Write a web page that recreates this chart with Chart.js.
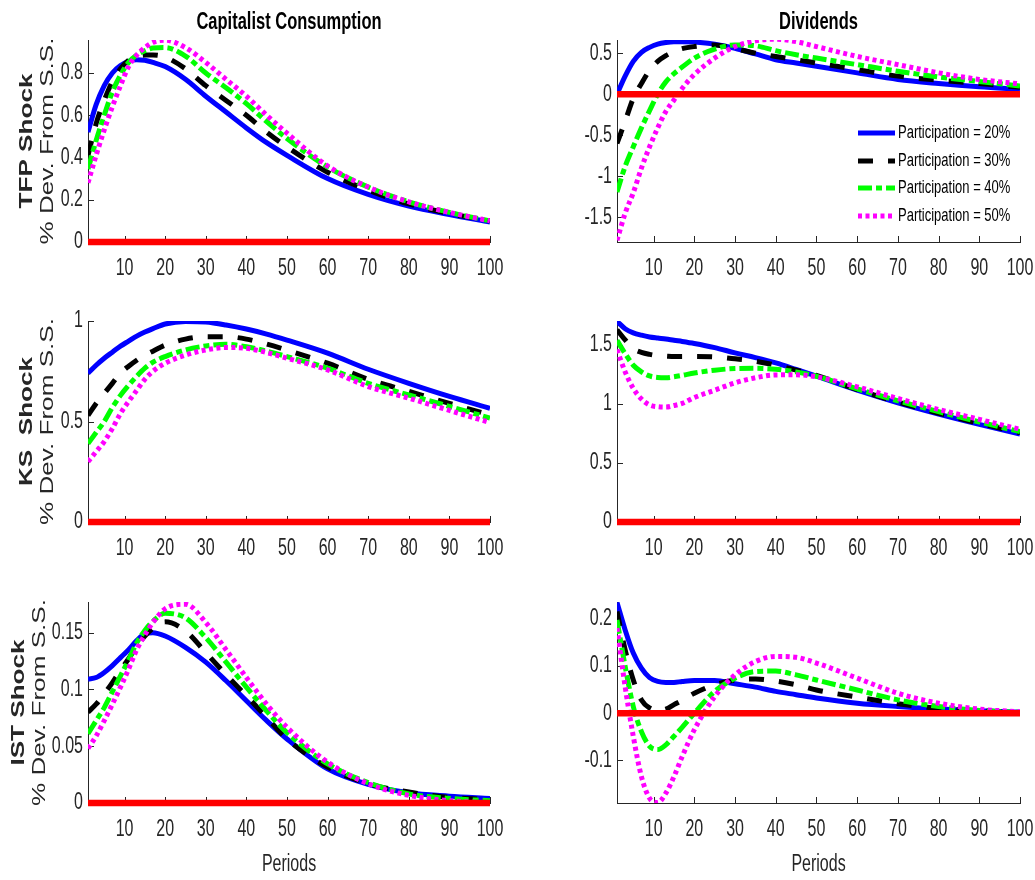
<!DOCTYPE html>
<html>
<head>
<meta charset="utf-8">
<script src="https://cdn.jsdelivr.net/npm/chart.js@4.4.1/dist/chart.umd.min.js"></script>
<style>
  html, body { margin: 0; padding: 0; background: #fff; }
  #fig { position: relative; width: 1035px; height: 880px; }
  #fig canvas { position: absolute; }
</style>
</head>
<body>
<div id="fig"></div>
<script>
"use strict";

// ---- data ----
var periods = [1, 3, 5, 7, 9, 11, 13, 15, 17, 20, 25, 30, 35, 40, 45, 50, 60, 70, 80, 90, 100];
var xTicks = [10, 20, 30, 40, 50, 60, 70, 80, 90, 100];
var zeroPeriods = [1, 100];
var zeroValues = [0, 0];

var seriesLabels = ['Participation = 20%', 'Participation = 30%', 'Participation = 40%', 'Participation = 50%'];
var columnTitles = ['Capitalist Consumption', 'Dividends'];
var shockLabels = ['TFP Shock', 'KS  Shock', 'IST Shock'];
var unitLabel = '% Dev. From S.S.';
var xLabel = 'Periods';

// capitalist consumption, TFP shock
var consTfp20 = [0.52, 0.65, 0.74, 0.80, 0.835, 0.855, 0.862, 0.86, 0.85, 0.83, 0.77, 0.69, 0.615, 0.54, 0.47, 0.41, 0.30, 0.225, 0.17, 0.13, 0.095];
var consTfp30 = [0.41, 0.56, 0.67, 0.76, 0.82, 0.86, 0.877, 0.885, 0.885, 0.875, 0.82, 0.74, 0.67, 0.60, 0.52, 0.45, 0.33, 0.245, 0.18, 0.135, 0.10];
var consTfp40 = [0.345, 0.48, 0.60, 0.71, 0.79, 0.85, 0.885, 0.905, 0.918, 0.92, 0.88, 0.80, 0.73, 0.655, 0.57, 0.49, 0.355, 0.26, 0.19, 0.14, 0.10];
var consTfp50 = [0.28, 0.41, 0.53, 0.64, 0.74, 0.83, 0.885, 0.92, 0.945, 0.955, 0.92, 0.85, 0.77, 0.69, 0.60, 0.515, 0.36, 0.26, 0.19, 0.14, 0.10];

// dividends, TFP shock
var divTfp20 = [0.0, 0.22, 0.40, 0.51, 0.57, 0.61, 0.63, 0.64, 0.64, 0.635, 0.61, 0.56, 0.49, 0.42, 0.38, 0.34, 0.26, 0.18, 0.13, 0.09, 0.06];
var divTfp30 = [-0.6, -0.33, -0.05, 0.13, 0.29, 0.40, 0.47, 0.52, 0.555, 0.58, 0.60, 0.555, 0.50, 0.46, 0.42, 0.38, 0.30, 0.22, 0.17, 0.13, 0.085];
var divTfp40 = [-1.19, -0.88, -0.64, -0.41, -0.20, 0.0, 0.15, 0.25, 0.33, 0.44, 0.55, 0.60, 0.59, 0.53, 0.48, 0.44, 0.36, 0.28, 0.21, 0.155, 0.10];
var divTfp50 = [-1.78, -1.45, -1.2, -0.9, -0.64, -0.41, -0.21, -0.07, 0.07, 0.24, 0.44, 0.58, 0.65, 0.67, 0.64, 0.58, 0.46, 0.36, 0.26, 0.18, 0.125];

// capitalist consumption, KS shock
var consKs20 = [0.74, 0.78, 0.815, 0.845, 0.875, 0.90, 0.925, 0.945, 0.962, 0.985, 0.998, 0.995, 0.98, 0.96, 0.935, 0.905, 0.84, 0.76, 0.69, 0.625, 0.566];
var consKs30 = [0.53, 0.59, 0.64, 0.69, 0.74, 0.775, 0.805, 0.83, 0.85, 0.88, 0.91, 0.922, 0.922, 0.91, 0.885, 0.855, 0.79, 0.71, 0.65, 0.59, 0.533];
var consKs40 = [0.39, 0.445, 0.50, 0.57, 0.63, 0.68, 0.725, 0.765, 0.795, 0.823, 0.856, 0.876, 0.884, 0.872, 0.85, 0.823, 0.765, 0.69, 0.632, 0.575, 0.517];
var consKs50 = [0.30, 0.35, 0.40, 0.465, 0.54, 0.60, 0.655, 0.71, 0.75, 0.79, 0.83, 0.856, 0.868, 0.864, 0.843, 0.815, 0.757, 0.674, 0.616, 0.555, 0.495];

// dividends, KS shock
var divKs20 = [1.697, 1.635, 1.60, 1.58, 1.565, 1.556, 1.548, 1.537, 1.527, 1.51, 1.475, 1.43, 1.39, 1.345, 1.29, 1.233, 1.115, 1.008, 0.913, 0.826, 0.744];
var divKs30 = [1.626, 1.54, 1.466, 1.435, 1.418, 1.407, 1.403, 1.40, 1.40, 1.40, 1.396, 1.38, 1.36, 1.326, 1.285, 1.24, 1.12, 1.014, 0.92, 0.834, 0.756];
var divKs40 = [1.536, 1.424, 1.326, 1.27, 1.235, 1.222, 1.22, 1.228, 1.24, 1.26, 1.284, 1.298, 1.30, 1.292, 1.27, 1.233, 1.126, 1.025, 0.933, 0.846, 0.764];
var divKs50 = [1.458, 1.27, 1.13, 1.04, 0.99, 0.975, 0.972, 0.985, 1.003, 1.053, 1.115, 1.177, 1.22, 1.244, 1.245, 1.228, 1.143, 1.045, 0.952, 0.868, 0.784];

// capitalist consumption, IST shock
var consIst20 = [0.109, 0.1105, 0.115, 0.121, 0.128, 0.135, 0.143, 0.149, 0.150, 0.147, 0.137, 0.124, 0.1076, 0.090, 0.0725, 0.0564, 0.030, 0.0164, 0.009, 0.006, 0.004];
var consIst30 = [0.080, 0.087, 0.096, 0.106, 0.117, 0.127, 0.138, 0.147, 0.154, 0.1595, 0.1515, 0.1325, 0.113, 0.0944, 0.0754, 0.0564, 0.0316, 0.017, 0.0097, 0.005, 0.003];
var consIst40 = [0.061, 0.0725, 0.084, 0.098, 0.112, 0.126, 0.141, 0.152, 0.160, 0.167, 0.163, 0.1456, 0.124, 0.102, 0.081, 0.062, 0.0345, 0.018, 0.008, 0.004, 0.002];
var consIst50 = [0.048, 0.059, 0.0725, 0.087, 0.102, 0.118, 0.135, 0.148, 0.159, 0.171, 0.175, 0.159, 0.135, 0.1105, 0.087, 0.0667, 0.036, 0.017, 0.0067, 0.002, 0.0];

// dividends, IST shock
var divIst20 = [0.234, 0.176, 0.127, 0.095, 0.075, 0.067, 0.065, 0.065, 0.067, 0.069, 0.069, 0.062, 0.055, 0.046, 0.039, 0.032, 0.021, 0.014, 0.0085, 0.005, 0.002];
var divIst30 = [0.215, 0.134, 0.070, 0.028, 0.011, 0.006, 0.0085, 0.018, 0.027, 0.042, 0.06, 0.070, 0.072, 0.068, 0.06, 0.049, 0.034, 0.020, 0.010, 0.005, 0.0015];
var divIst40 = [0.197, 0.099, 0.014, -0.039, -0.070, -0.077, -0.067, -0.049, -0.030, 0.0, 0.046, 0.074, 0.088, 0.089, 0.081, 0.070, 0.049, 0.028, 0.014, 0.0056, 0.0015];
var divIst50 = [0.18, 0.056, -0.049, -0.134, -0.18, -0.189, -0.169, -0.134, -0.092, -0.035, 0.035, 0.081, 0.109, 0.12, 0.118, 0.106, 0.074, 0.042, 0.021, 0.0085, 0.003];

// axis limits and tick values
var consTfpRange = [0, 0.956], consTfpTicks = [0, 0.2, 0.4, 0.6, 0.8];
var divTfpRange = [-1.8, 0.66], divTfpTicks = [-1.5, -1, -0.5, 0, 0.5];
var consKsRange = [0, 1.0], consKsTicks = [0, 0.5, 1];
var divKsRange = [0, 1.70], divKsTicks = [0, 0.5, 1, 1.5];
var consIstRange = [0, 0.177], consIstTicks = [0, 0.05, 0.1, 0.15];
var divIstRange = [-0.19, 0.235], divIstTicks = [-0.1, 0, 0.1, 0.2];

// ---- look ----
// the figure is stretched vertically, so text gets the same stretch
var STRETCH = 1.45;
var AXIS = '#262626';
var FONT = '"Liberation Sans", Arial, sans-serif';
var lineStyles = [
    { color: '#0000ff', dash: [], order: 4 },
    { color: '#000000', dash: [15, 15], order: 3 },
    { color: '#00ff00', dash: [14, 4, 6, 4], order: 2 },
    { color: '#ff00ff', dash: [4, 3.5], order: 1 }
];
var rowBox = [
    { top: 0, h: 290, padTop: 40, xh: 48 },
    { top: 290, h: 290, padTop: 31, xh: 58 },
    { top: 580, h: 300, padTop: 22, xh: 77 }
];
var colBox = [
    { left: 0, w: 510, yw: 88, padRight: 20 },
    { left: 515, w: 520, yw: 102, padRight: 15 }
];
var rowLabelX = [[27, 48], [27, 48], [19, 40]];

var stretchText = function(ctx, txt, x, y, font, color, align, vertical) {
    ctx.save();
    ctx.translate(x, y);
    if (vertical) {
        ctx.rotate(-Math.PI / 2);
        ctx.scale(STRETCH, 1);
    } else {
        ctx.scale(1, STRETCH);
    }
    ctx.font = font;
    ctx.fillStyle = color;
    ctx.textAlign = align;
    ctx.textBaseline = 'middle';
    ctx.fillText(txt, 0, 0);
    ctx.restore();
}

var panelText = {
    id: 'panelText',
    beforeDatasetsDraw: function(chart) {
        // inward tick marks, matlab style
        var ctx = chart.ctx, a = chart.chartArea;
        var sx = chart.scales.x, sy = chart.scales.y;
        ctx.save();
        ctx.strokeStyle = AXIS;
        ctx.lineWidth = 1;
        ctx.beginPath();
        sx.ticks.forEach(function(t) {
            var px = Math.round(sx.getPixelForValue(t.value)) + 0.5;
            ctx.moveTo(px, a.bottom);
            ctx.lineTo(px, a.bottom - 6);
        });
        sy.ticks.forEach(function(t) {
            var py = Math.round(sy.getPixelForValue(t.value)) + 0.5;
            ctx.moveTo(a.left, py);
            ctx.lineTo(a.left + 6, py);
        });
        ctx.stroke();
        ctx.restore();
    },
    afterDraw: function(chart, args, o) {
        var ctx = chart.ctx, a = chart.chartArea;
        var sx = chart.scales.x, sy = chart.scales.y;
        var cx = (a.left + a.right) / 2, cy = (a.top + a.bottom) / 2;
        var tf = '16px ' + FONT;
        sx.ticks.forEach(function(t) {
            stretchText(ctx, String(t.label), sx.getPixelForValue(t.value), a.bottom + 27, tf, AXIS, 'center', false);
        });
        sy.ticks.forEach(function(t) {
            stretchText(ctx, String(t.label), a.left - 5, sy.getPixelForValue(t.value), tf, AXIS, 'right', false);
        });
        if (o.title) {
            stretchText(ctx, o.title, cx, 22, 'bold 16.5px ' + FONT, '#000', 'center', false);
        }
        if (o.shock) {
            stretchText(ctx, o.shock, o.labelX[0], cy, 'bold 18px ' + FONT, AXIS, 'center', true);
            stretchText(ctx, unitLabel, o.labelX[1], cy, '18px ' + FONT, AXIS, 'center', true);
        }
        if (o.xTitle) {
            stretchText(ctx, o.xTitle, cx, chart.height - 15, '16px ' + FONT, AXIS, 'center', false);
        }
        if (o.legend) {
            var rowsY = [a.top + 93, a.top + 121, a.top + 148, a.top + 176];
            var x0 = a.right - 162, x1 = a.right - 125;
            chart.data.datasets.filter(function(ds) { return ds.label; }).forEach(function(ds, i) {
                ctx.save();
                ctx.strokeStyle = ds.borderColor;
                ctx.lineWidth = ds.borderWidth;
                ctx.setLineDash(ds.borderDash);
                ctx.beginPath();
                ctx.moveTo(x0, rowsY[i]);
                ctx.lineTo(x1, rowsY[i]);
                ctx.stroke();
                ctx.restore();
                stretchText(ctx, ds.label, x1 + 3, rowsY[i], '13px ' + FONT, '#000', 'left', false);
            });
        }
    }
};

var makeSet = function(label, xs, ys, style, width) {
    return {
        label: label,
        data: xs.map(function(p, i) { return { x: p, y: ys[i] }; }),
        borderColor: style.color,
        borderDash: style.dash,
        borderWidth: width,
        borderCapStyle: 'butt',
        order: style.order,
        pointRadius: 0,
        fill: false,
        cubicInterpolationMode: 'monotone'
    };
}

var panels = [
    { row: 0, col: 0, series: [consTfp20, consTfp30, consTfp40, consTfp50], range: consTfpRange, ticks: consTfpTicks },
    { row: 0, col: 1, series: [divTfp20, divTfp30, divTfp40, divTfp50], range: divTfpRange, ticks: divTfpTicks },
    { row: 1, col: 0, series: [consKs20, consKs30, consKs40, consKs50], range: consKsRange, ticks: consKsTicks },
    { row: 1, col: 1, series: [divKs20, divKs30, divKs40, divKs50], range: divKsRange, ticks: divKsTicks },
    { row: 2, col: 0, series: [consIst20, consIst30, consIst40, consIst50], range: consIstRange, ticks: consIstTicks },
    { row: 2, col: 1, series: [divIst20, divIst30, divIst40, divIst50], range: divIstRange, ticks: divIstTicks }
];

var fig = document.getElementById('fig');

panels.forEach(function(p) {
    var r = rowBox[p.row], c = colBox[p.col];
    var canvas = document.createElement('canvas');
    canvas.width = c.w;
    canvas.height = r.h;
    canvas.style.left = c.left + 'px';
    canvas.style.top = r.top + 'px';
    fig.appendChild(canvas);

    var sets = p.series.map(function(ys, i) {
        return makeSet(seriesLabels[i], periods, ys, lineStyles[i], 5);
    });
    var zero = makeSet('', zeroPeriods, zeroValues, { color: '#ff0000', dash: [], order: 0 }, 6.5);
    zero.clip = false;
    sets.push(zero);

    new Chart(canvas, {
        type: 'line',
        data: { datasets: sets },
        options: {
            responsive: false,
            animation: false,
            devicePixelRatio: 1,
            layout: { padding: { top: r.padTop, right: c.padRight, left: 0, bottom: 0 } },
            plugins: {
                legend: { display: false },
                tooltip: { enabled: false },
                panelText: {
                    title: p.row === 0 ? columnTitles[p.col] : null,
                    shock: p.col === 0 ? shockLabels[p.row] : null,
                    labelX: rowLabelX[p.row],
                    xTitle: p.row === 2 ? xLabel : null,
                    legend: p.row === 0 && p.col === 1
                }
            },
            scales: {
                x: {
                    type: 'linear',
                    min: 1,
                    max: 100,
                    afterBuildTicks: function(s) { s.ticks = xTicks.map(function(v) { return { value: v }; }); },
                    afterFit: function(s) { s.height = r.xh; s.paddingLeft = 0; s.paddingRight = 0; },
                    grid: { display: false, drawTicks: false },
                    border: { display: true, color: AXIS, width: 1 },
                    ticks: { display: false, autoSkip: false, maxRotation: 0, callback: function(v) { return String(v); } }
                },
                y: {
                    type: 'linear',
                    min: p.range[0],
                    max: p.range[1],
                    afterBuildTicks: function(s) { s.ticks = p.ticks.map(function(v) { return { value: v }; }); },
                    afterFit: function(s) { s.width = c.yw; s.paddingTop = 0; s.paddingBottom = 0; },
                    grid: { display: false, drawTicks: false },
                    border: { display: true, color: AXIS, width: 1 },
                    ticks: { display: false, callback: function(v) { return String(v); } }
                }
            }
        },
        plugins: [panelText]
    });
});
</script>
</body>
</html>
